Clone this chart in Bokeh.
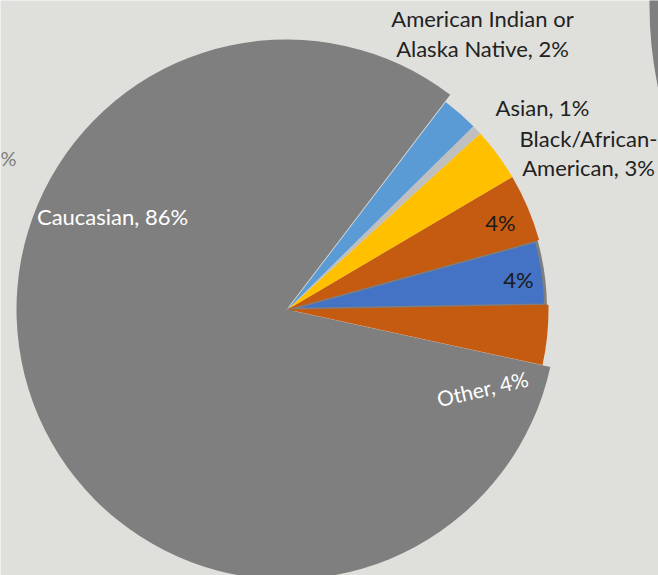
import numpy as np
from bokeh.plotting import figure
from bokeh.models import Range1d
from bokeh.core.properties import value
from bokeh.embed import file_html
from bokeh.resources import INLINE

# ---- data ----
categories = ["Other", "Group B", "Group A", "Black/African-American", "Asian",
              "American Indian or Alaska Native", "Caucasian"]
percent = [3.7, 4.0, 4.2, 3.3, 0.6, 2.25, 81.95]
colors = ["#c55a11", "#4472c4", "#c55a11", "#ffc000", "#bfbfbf", "#5b9bd5", "#7f7f7f"]

label_texts = ["American Indian or", "Alaska Native, 2%", "Asian, 1%", "Black/African-",
               "American, 3%", "4%", "4%", "Caucasian, 86%"]

W, H = 658, 575
BG = "#dfe0db"

p = figure(width=W, height=H, output_backend="svg", toolbar_location=None,
           x_range=Range1d(0, W), y_range=Range1d(0, H), min_border=0)
p.axis.visible = False
p.grid.visible = False
p.outline_line_color = None
p.background_fill_color = BG
p.border_fill_color = BG

def Y(y):
    return H - y

cx, cy = 287, Y(309)
start_deg = -12.3
ang = np.radians(start_deg + 360 * np.cumsum([0] + percent) / 100.0)
starts, ends = ang[:-1], ang[1:]

# neighbour pie (cut off at top right)
p.circle(x=[1049], y=[Y(5)], radius=400, fill_color="#7f7f7f", line_color=None)

# main gray body (Caucasian) slightly larger
p.wedge(x=cx - 1, y=cy, radius=270, start_angle=starts[6], end_angle=ends[6],
        fill_color=colors[6], line_color=None)

order = [1, 0, 2, 3, 4, 5]
for i in order:
    if i == 1:
        p.wedge(x=cx, y=cy, radius=258, start_angle=starts[i], end_angle=ends[i],
                fill_color=colors[i], line_color="#7f7f7f", line_width=3)
    else:
        p.wedge(x=cx, y=cy, radius=261, start_angle=starts[i], end_angle=ends[i],
                fill_color=colors[i], line_color=None)

font = value("Lato")
dark = "#222222"
lx = [482, 482, 542, 588, 588, 500, 518, 112]
ly = [18, 48, 107, 138, 167, 222, 279, 216]
lc = [dark, dark, dark, dark, dark, "#1a1a1a", "#1a1a1a", "white"]
p.text(x=lx, y=[Y(v) for v in ly], text=label_texts, text_color=lc,
       text_font=font, text_font_size="22px", text_align="center",
       text_baseline="middle")

p.text(x=[482], y=[Y(388)], text=["Other, 4%"], text_color="white", angle=13,
       angle_units="deg", text_font=font, text_font_size="21px",
       text_align="center", text_baseline="middle")

p.text(x=[0], y=[Y(157)], text=["%"], text_color="#7f7f7f", text_font=font,
       text_font_size="20px", text_align="left", text_baseline="middle")

open("out.html", "w").write(file_html(p, INLINE))
